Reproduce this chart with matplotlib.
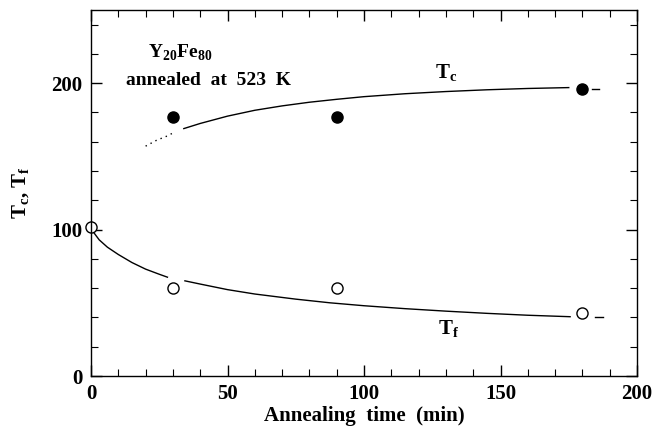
import matplotlib
matplotlib.use("Agg")
import matplotlib.pyplot as plt

# measured points
t_pts = [30, 90, 180]
tc_vals = [177, 177, 196]
tf_t = [0, 30, 90, 180]
tf_vals = [102, 60, 60, 43]

# fitted curves
tc_dot_x = [20, 24, 28, 30]
tc_dot_y = [157, 161, 164, 166]
tc_fit_x = [34, 40, 50, 60, 70, 80, 90, 100, 115, 130, 145, 160, 175]
tc_fit_y = [169, 172.5, 177.5, 181.5, 184.5, 187, 189, 190.8, 192.8, 194.3, 195.5, 196.4, 197]
tc_tail_x = [183.5, 186]
tc_tail_y = [196, 196]

tf_fit1_x = [0, 1, 3, 6, 10, 15, 20, 25, 28]
tf_fit1_y = [100, 98, 93, 88, 83, 77.5, 73, 69.5, 67.5]
tf_fit2_x = [34.4, 40, 50, 60, 75, 87.5, 100, 115, 130, 145, 160, 175.5]
tf_fit2_y = [65, 62.8, 59, 56, 52.5, 50, 48, 46, 44.3, 42.8, 41.5, 40.5]
tf_tail_x = [184.5, 187.5]
tf_tail_y = [40, 40]

serif = ["Liberation Serif", "DejaVu Serif"]
plt.rcParams["font.family"] = serif
plt.rcParams["font.weight"] = "bold"
plt.rcParams["mathtext.fontset"] = "custom"
plt.rcParams["mathtext.rm"] = "Liberation Serif:bold"
plt.rcParams["mathtext.bf"] = "Liberation Serif:bold"

fig = plt.figure(figsize=(6.54, 4.43), dpi=100)
ax = fig.add_axes([91/654, 1 - 376/443, (637-91)/654, (376-10)/443])

lw = 1.0
ax.plot(tc_dot_x, tc_dot_y, color="black", lw=1.0, ls=(0, (1, 3)))
ax.plot(tc_fit_x, tc_fit_y, color="black", lw=lw)
ax.plot(tc_tail_x, tc_tail_y, color="black", lw=lw)
ax.plot(tf_fit1_x, tf_fit1_y, color="black", lw=lw)
ax.plot(tf_fit2_x, tf_fit2_y, color="black", lw=lw)
ax.plot(tf_tail_x, tf_tail_y, color="black", lw=lw)

ax.plot(t_pts, tc_vals, "o", color="black", ms=8, clip_on=False)
ax.plot(tf_t, tf_vals, "o", mfc="white", mec="black", mew=1.0, ms=8, clip_on=False)

ax.set_xlim(0, 200)
ax.set_ylim(0, 250)
ax.set_xticks([0, 50, 100, 150, 200])
ax.set_xticks(range(0, 201, 10), minor=True)
ax.set_yticks([0, 100, 200])
ax.set_yticks(range(0, 251, 20), minor=True)
ax.tick_params(which="both", direction="in", top=True, right=True)
ax.tick_params(which="major", length=8, width=1.0, labelsize=15, pad=6)
ax.tick_params(which="minor", length=5, width=0.8)
for lab in ax.get_xticklabels() + ax.get_yticklabels():
    lab.set_fontweight("bold")
for s in ax.spines.values():
    s.set_linewidth(1.0)

ax.set_xlabel("Annealing  time  (min)", fontsize=15, fontweight="bold", labelpad=1)
ax.set_ylabel(r"T$_\mathbf{c}$, T$_\mathbf{f}$", fontsize=15, fontweight="bold", labelpad=14)

ax.text(32.5, 221, r"Y$_\mathbf{20}$Fe$_\mathbf{80}$", fontsize=14, fontweight="bold",
        ha="center", va="center")
ax.text(43, 202, "annealed  at  523  K", fontsize=14, fontweight="bold",
        ha="center", va="center")
ax.text(130, 207, r"T$_\mathbf{c}$", fontsize=15, fontweight="bold", ha="center", va="center")
ax.text(131, 32, r"T$_\mathbf{f}$", fontsize=15, fontweight="bold", ha="center", va="center")

fig.savefig("out.png", dpi=100)
